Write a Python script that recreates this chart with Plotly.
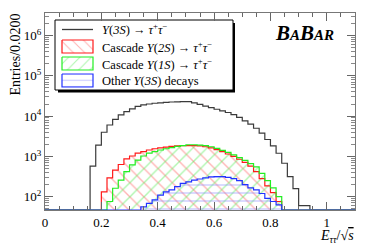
import numpy as np
import plotly.graph_objects as go

# ---------------- data (entries per 0.02 bin, bins from 0.00 to 1.10) ----------------
bin_width = 0.02
n_bins = 55
edges = np.round(np.arange(n_bins + 1) * bin_width, 2)
centers = edges[:-1] + bin_width / 2

ups3s_tautau = [0] * 8 + [
    575, 1905, 3980, 6030, 8320, 10700, 12900, 15100, 17400, 19100,
    20000, 20900, 21400, 21900, 22400, 22600, 22900, 22900, 21400, 19500,
    17800, 16200, 14800, 13500, 12300, 10960, 9330, 7590, 6310, 5010,
    3800, 2630, 1820, 1200, 676, 316, 158, 60, 60] + [0] * 8

cascade_2s = [0] * 10 + [
    132, 295, 457, 631, 871, 1023, 1202, 1318, 1445, 1549,
    1622, 1698, 1778, 1820, 1862, 1862, 1862, 1820, 1738, 1622,
    1479, 1318, 1148, 1000, 851, 708, 575, 417, 282, 186,
    126, 76] + [0] * 13

cascade_1s = [0] * 11 + [
    76, 162, 257, 417, 617, 813, 1023, 1202, 1318, 1445,
    1549, 1660, 1778, 1862, 1950, 1950, 1905, 1862, 1738, 1585,
    1413, 1259, 1096, 933, 794, 661, 550, 380, 251, 166,
    100] + [0] * 13

other_3s = [0] * 17 + [
    56, 68, 83, 110, 132, 148, 178, 214, 234, 257,
    275, 295, 309, 316, 316, 302, 282, 251, 200, 166,
    148, 120, 91, 76, 63] + [0] * 13

x_tick_vals = [0, 0.2, 0.4, 0.6, 0.8, 1.0]
x_tick_text = ["0", "0.2", "0.4", "0.6", "0.8", "1"]
y_tick_vals = [1e2, 1e3, 1e4, 1e5, 1e6]
y_tick_text = ["10<sup>2</sup>", "10<sup>3</sup>", "10<sup>4</sup>", "10<sup>5</sup>", "10<sup>6</sup>"]

legend_labels = [
    "<i>Υ</i>(<i>3S</i>) → <i>τ</i><sup>+</sup><i>τ</i><sup>−</sup>",
    "Cascade <i>Υ</i>(<i>2S</i>) → <i>τ</i><sup>+</sup><i>τ</i><sup>−</sup>",
    "Cascade <i>Υ</i>(<i>1S</i>) → <i>τ</i><sup>+</sup><i>τ</i><sup>−</sup>",
    "Other <i>Υ</i>(<i>3S</i>) decays",
]

# ---------------- layout constants ----------------
# the page body adds an 8 px margin, so the figure is laid out shifted by OFF
OFF = 8
W, H = 374, 251
L, R, T, B = 45 - OFF, 355 - OFF, 13 - OFF, 210 - OFF
Y_LO, Y_HI = 1.67, 6.56
y_floor = 10 ** Y_LO
FONT = "Liberation Serif, Times New Roman, DejaVu Serif, serif"

def px(x):
    # screen pixel x -> paper
    return (x - OFF - L) / (R - L)

def py(y):
    # screen pixel y -> paper
    return (B - (y - OFF)) / (B - T)

fig = go.Figure()

styles = [
    dict(vals=ups3s_tautau, color="#3a3a3a", hatch=None),
    dict(vals=cascade_2s, color="#ff1a1a", hatch=dict(shape="\\", fgcolor="#ff6c6c", size=10, solidity=0.14)),
    dict(vals=cascade_1s, color="#22ee22", hatch=dict(shape="/", fgcolor="#5fee5f", size=10, solidity=0.14)),
    dict(vals=other_3s, color="#2233ff", hatch=dict(shape="-", fgcolor="#9090ff", size=8, solidity=0.16)),
]

for s in styles:
    v = np.array(s["vals"], dtype=float)
    if s["hatch"] is not None:
        fig.add_trace(go.Bar(
            x=centers, y=np.where(v > 0, v, np.nan), width=bin_width,
            marker=dict(color="rgba(0,0,0,0)", line=dict(width=0), pattern=s["hatch"]),
            hoverinfo="skip"))
for s in styles:
    v = np.array(s["vals"], dtype=float)
    ystep = np.where(v > 0, v, y_floor)
    fig.add_trace(go.Scatter(
        x=edges, y=np.append(ystep, ystep[-1]), mode="lines",
        line=dict(shape="hv", color=s["color"], width=1.2), hoverinfo="skip"))

# ---------------- legend (drawn on a screen-pixel overlay axis) ----------------
bx0, by0, bx1, by1 = 55, 20, 233, 90
fig.add_trace(go.Scatter(x=[bx0 + 3, bx1 + 2, bx1 + 2, bx0 + 3, bx0 + 3], y=[by0 + 3, by0 + 3, by1 + 2.5, by1 + 2.5, by0 + 3],
                         fill="toself", fillcolor="black", line=dict(width=0), mode="lines",
                         xaxis="x2", yaxis="y2", hoverinfo="skip"))
fig.add_trace(go.Scatter(x=[bx0, bx1, bx1, bx0, bx0], y=[by0, by0, by1, by1, by0],
                         fill="toself", fillcolor="white", line=dict(width=1, color="black"), mode="lines",
                         xaxis="x2", yaxis="y2", hoverinfo="skip"))
rows = [29.5, 46.5, 63.5, 80.5]
sx0, sx1 = 62, 93
for s, yc in zip(styles, rows):
    if s["hatch"] is None:
        fig.add_trace(go.Scatter(x=[sx0, sx1], y=[yc, yc], mode="lines",
                                 line=dict(color=s["color"], width=1.3), xaxis="x2", yaxis="y2", hoverinfo="skip"))
    else:
        fig.add_trace(go.Scatter(x=[sx0, sx1, sx1, sx0, sx0], y=[yc - 6.5, yc - 6.5, yc + 6.5, yc + 6.5, yc - 6.5],
                                 mode="lines", fill="toself", fillcolor="rgba(0,0,0,0)",
                                 fillpattern=dict(shape=s["hatch"]["shape"], fgcolor=s["hatch"]["fgcolor"],
                                                  bgcolor="rgba(0,0,0,0)", size=s["hatch"]["size"] * 0.8,
                                                  solidity=s["hatch"]["solidity"]),
                                 line=dict(color=s["color"], width=1.2), xaxis="x2", yaxis="y2", hoverinfo="skip"))

annotations = []
for lab, yc in zip(legend_labels, rows):
    annotations.append(dict(x=px(100), y=py(yc), xref="paper", yref="paper", text=lab, showarrow=False,
                            xanchor="left", yanchor="middle", font=dict(family=FONT, size=12.5, color="black")))

# BaBar logo
annotations.append(dict(x=px(273), y=py(33), xref="paper", yref="paper", showarrow=False,
                        xanchor="left", yanchor="middle",
                        text="<b><i>B<span style='font-size:15px'>A</span>B<span style='font-size:15px'>AR</span></i></b>",
                        font=dict(family=FONT, size=21, color="black")))
# axis titles
annotations.append(dict(x=px(15.5), y=py(55), xref="paper", yref="paper", showarrow=False, textangle=-90,
                        xanchor="center", yanchor="middle", text="Entries/0.0200",
                        font=dict(family=FONT, size=14, color="black")))
annotations.append(dict(x=px(356), y=py(236), xref="paper", yref="paper", showarrow=False,
                        xanchor="right", yanchor="middle",
                        text="<i>E</i><sub><i>ττ</i></sub>/√<span style='text-decoration:overline'><i>s</i></span>",
                        font=dict(family=FONT, size=14, color="black")))

minor_y = [k * 10 ** d for d in range(1, 7) for k in range(2, 10)]

fig.update_layout(
    width=W, height=H,
    margin=dict(l=L, r=W - R, t=T, b=H - B, autoexpand=False),
    plot_bgcolor="white", paper_bgcolor="white",
    barmode="overlay", bargap=0, showlegend=False,
    font=dict(family=FONT, size=12, color="black"),
    annotations=annotations,
    xaxis=dict(range=[0, 1.1], tickmode="array", tickvals=x_tick_vals, ticktext=x_tick_text,
               ticks="inside", ticklen=8, tickcolor="#666", tickwidth=1,
               showline=True, linecolor="#777", linewidth=1, mirror="allticks",
               showgrid=False, zeroline=False, tickfont=dict(family=FONT, size=13),
               minor=dict(ticks="inside", ticklen=4, dtick=0.05, tick0=0, tickcolor="#666", showgrid=False)),
    yaxis=dict(type="log", range=[Y_LO, Y_HI], tickmode="array", tickvals=y_tick_vals, ticktext=y_tick_text,
               ticks="inside", ticklen=8, tickcolor="#666", tickwidth=1,
               showline=True, linecolor="#777", linewidth=1, mirror="allticks",
               showgrid=False, zeroline=False, tickfont=dict(family=FONT, size=13),
               minor=dict(ticks="inside", ticklen=4, tickmode="array", tickvals=minor_y, tickcolor="#888", showgrid=False)),
    xaxis2=dict(range=[45, 355], overlaying="x", visible=False, fixedrange=True, anchor="y2"),
    yaxis2=dict(range=[210, 13], overlaying="y", visible=False, fixedrange=True, anchor="x2"),
)

fig.write_html("out.html")
